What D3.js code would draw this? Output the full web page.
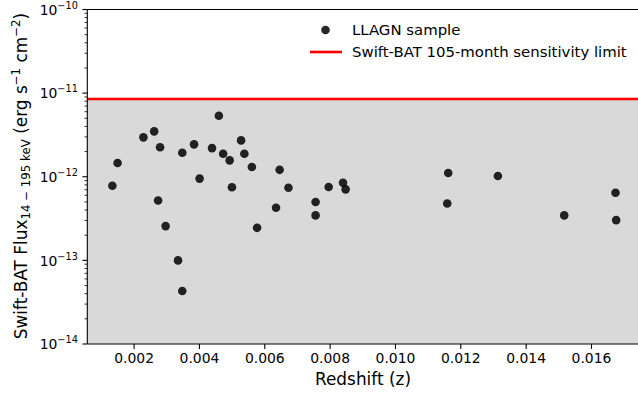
<!DOCTYPE html>
<html><head><meta charset="utf-8">
<script src="https://cdn.jsdelivr.net/npm/d3@7"></script>
<style>body{margin:0;background:#fff}svg{display:block;font-family:"DejaVu Sans",sans-serif}</style>
</head><body>
<svg id="c" width="638" height="394"></svg>
<script>
const redshift = [0.00135,0.00151,0.00230,0.00263,0.00281,0.00275,0.00298,0.00336,0.00349,0.00349,0.00385,0.00402,0.00461,0.00440,0.00474,0.00494,0.00501,0.00529,0.00539,0.00562,0.00578,0.00636,0.00647,0.00674,0.00757,0.00757,0.00797,0.00841,0.00849,0.01163,0.01160,0.01315,0.01518,0.01675,0.01677];
const flux = [7.8e-13,1.46e-12,2.96e-12,3.49e-12,2.25e-12,5.2e-13,2.57e-13,1.0e-13,4.3e-14,1.94e-12,2.44e-12,9.5e-13,5.37e-12,2.2e-12,1.88e-12,1.57e-12,7.5e-13,2.72e-12,1.88e-12,1.31e-12,2.45e-13,4.26e-13,1.21e-12,7.38e-13,4.98e-13,3.45e-13,7.53e-13,8.48e-13,7.07e-13,1.11e-12,4.78e-13,1.02e-12,3.45e-13,6.44e-13,3.03e-13];
const sensitivityLimit = 8.5e-12;
const xTicks = [0.002,0.004,0.006,0.008,0.010,0.012,0.014,0.016];
const yTickExps = [-10,-11,-12,-13,-14];
const legendLabels = ["LLAGN sample","Swift-BAT 105-month sensitivity limit"];

const svg = d3.select("#c");
const L = 87.3, T = 9.5, B = 344, R = 645;
const x = d3.scaleLinear().domain([0.002, 0.016]).range([133.6, 591]);
const y = d3.scaleLog().domain([1e-14, 1e-10]).range([B, T]);

// shaded region
svg.append("rect").attr("x", L).attr("y", y(sensitivityLimit)).attr("width", R - L).attr("height", B - y(sensitivityLimit)).attr("fill", "#d9d9d9");
// limit line
svg.append("line").attr("x1", L).attr("x2", R).attr("y1", y(sensitivityLimit)).attr("y2", y(sensitivityLimit)).attr("stroke", "red").attr("stroke-width", 2.6);

// points
svg.append("g").selectAll("circle").data(redshift.map((z, i) => [z, flux[i]])).join("circle")
  .attr("cx", d => x(d[0])).attr("cy", d => y(d[1])).attr("r", 4.3).attr("fill", "#000").attr("fill-opacity", 0.85);

// spines
svg.append("line").attr("x1", L).attr("x2", L).attr("y1", T).attr("y2", B).attr("stroke", "#000").attr("stroke-width", 1.1);
svg.append("line").attr("x1", L).attr("x2", R).attr("y1", T).attr("y2", T).attr("stroke", "#000").attr("stroke-width", 1.1);
svg.append("line").attr("x1", L).attr("x2", R).attr("y1", B).attr("y2", B).attr("stroke", "#000").attr("stroke-width", 1.1);

// x axis
const xa = svg.append("g").attr("transform", `translate(0,${B})`)
  .call(d3.axisBottom(x).tickValues(xTicks).tickFormat(d3.format(".3f")).tickSize(4.9).tickPadding(4.5));
xa.select(".domain").remove();
xa.selectAll("line").attr("stroke-width", 1.1);
xa.selectAll("text").attr("font-size", 13.9).attr("fill", "#000").attr("font-family", "DejaVu Sans");

// y axis
const ya = svg.append("g").attr("transform", `translate(${L},0)`);
const minor = [];
for (let e = -14; e < -10; e++) for (let m = 2; m <= 9; m++) minor.push(m * Math.pow(10, e));
ya.selectAll("line.minor").data(minor).join("line").attr("class", "minor")
  .attr("x1", 0).attr("x2", -2.8).attr("y1", d => y(d)).attr("y2", d => y(d)).attr("stroke", "#000").attr("stroke-width", 0.8);
ya.selectAll("line.major").data(yTickExps).join("line").attr("class", "major")
  .attr("x1", 0).attr("x2", -4.9).attr("y1", d => y(Math.pow(10, d))).attr("y2", d => y(Math.pow(10, d))).attr("stroke", "#000").attr("stroke-width", 1.1);
const yt = ya.selectAll("text.yt").data(yTickExps).join("text").attr("class", "yt")
  .attr("x", -9.5).attr("y", d => y(Math.pow(10, d)) + 5.2).attr("text-anchor", "end").attr("font-size", 13.9).attr("fill", "#000");
yt.append("tspan").text("10");
yt.append("tspan").attr("font-size", 9.7).attr("dy", -6).text(d => "−" + Math.abs(d));

// x label
svg.append("text").attr("x", 363).attr("y", 384.5).attr("text-anchor", "middle").attr("font-size", 16.9).attr("fill", "#000").text("Redshift (z)");

// y label
const yl = svg.append("text").attr("transform", "translate(26.5,176) rotate(-90)").attr("text-anchor", "middle").attr("font-size", 16.9).attr("fill", "#000");
yl.append("tspan").text("Swift-BAT Flux");
yl.append("tspan").attr("font-size", 11.8).attr("dy", 3.5).text("14 − 195 keV");
yl.append("tspan").attr("dy", -3.5).text(" (erg s");
yl.append("tspan").attr("font-size", 11.8).attr("dy", -7).text("−1");
yl.append("tspan").attr("dy", 7).text(" cm");
yl.append("tspan").attr("font-size", 11.8).attr("dy", -7).text("−2");
yl.append("tspan").attr("dy", 7).text(")");

// legend
const lg = svg.append("g");
lg.append("circle").attr("cx", 325.5).attr("cy", 30).attr("r", 4.3).attr("fill", "#000").attr("fill-opacity", 0.85);
lg.append("line").attr("x1", 310).attr("x2", 342).attr("y1", 52).attr("y2", 52).attr("stroke", "red").attr("stroke-width", 2.6);
lg.selectAll("text").data(legendLabels).join("text").attr("x", 352).attr("y", (d, i) => 35.3 + i * 21.8).attr("font-size", 14.9).attr("fill", "#000").text(d => d);
</script>
</body></html>
